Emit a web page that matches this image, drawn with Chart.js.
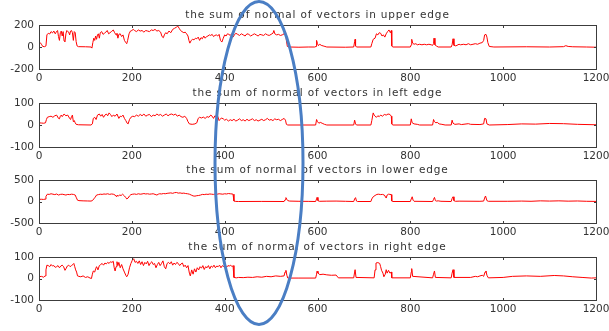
<!DOCTYPE html>
<html>
<head>
<meta charset="utf-8">
<script src="https://cdn.jsdelivr.net/npm/chart.js@4/dist/chart.umd.min.js"></script>
<style>
  html, body { margin: 0; padding: 0; background: #fff; }
  #wrap { position: relative; width: 609px; height: 331px; overflow: hidden; background: #fff; }
  canvas { position: absolute; left: 0; }
  #mark { top: 0; pointer-events: none; }
</style>
</head>
<body>
<div id="wrap">
  <canvas id="c1" width="609" height="80" style="top:5px"></canvas>
  <canvas id="c2" width="609" height="80" style="top:83px"></canvas>
  <canvas id="c3" width="609" height="79" style="top:160px"></canvas>
  <canvas id="c4" width="609" height="79" style="top:237px"></canvas>
  <canvas id="mark" width="609" height="331"></canvas>
</div>
<script>
// ---- data (x, value) ----
const titles = [
  'the sum of normal of vectors in upper edge',
  'the sum of normal of vectors in left edge',
  'the sum of normal of vectors in lower edge',
  'the sum of normal of vectors in right edge'
];
const xTicks = [0, 200, 400, 600, 800, 1000, 1200];
const yTicksUpper = [-200, 0, 200];
const yTicksLeft = [-100, 0, 100];
const yTicksLower = [-500, 0, 500];
const yTicksRight = [-100, 0, 100];

const upperEdge = [[0,35],[3,38],[6,20],[8,5],[12,3],[15,10],[17,110],[20,125],[23,118],[26,140],[29,128],[32,145],[35,120],[37,135],[40,150],[42,95],[44,60],[46,130],[48,145],[50,100],[52,140],[54,55],[56,50],[58,120],[60,150],[62,140],[64,135],[66,110],[68,145],[70,150],[72,130],[74,60],[76,140],[78,130],[80,50],[82,10],[85,3],[100,2],[112,0],[114,-10],[116,40],[118,80],[120,60],[122,100],[124,70],[126,110],[128,120],[130,80],[132,130],[135,140],[138,115],[141,125],[144,135],[147,150],[150,120],[153,130],[156,140],[160,155],[163,130],[166,110],[168,125],[170,80],[172,115],[175,120],[178,95],[181,110],[184,60],[187,40],[189,30],[191,60],[194,120],[197,145],[200,150],[203,160],[206,150],[210,140],[214,155],[218,145],[222,150],[226,135],[230,150],[234,145],[238,140],[242,155],[246,150],[250,160],[254,145],[258,150],[262,135],[265,95],[268,85],[270,110],[273,130],[276,120],[280,145],[284,130],[288,160],[292,170],[296,180],[299,190],[302,170],[305,150],[308,140],[312,130],[315,135],[318,120],[321,100],[323,60],[325,35],[328,60],[331,70],[334,65],[337,80],[340,75],[343,90],[346,60],[349,85],[352,75],[355,100],[358,80],[361,95],[364,100],[367,110],[370,105],[373,115],[376,95],[379,105],[382,110],[385,100],[388,115],[391,60],[394,45],[397,80],[400,110],[403,100],[406,120],[409,115],[412,105],[415,120],[418,90],[421,110],[424,125],[428,115],[432,105],[436,120],[440,110],[444,100],[448,120],[452,115],[456,100],[460,110],[464,120],[468,110],[472,100],[476,115],[480,110],[484,105],[488,120],[492,110],[496,105],[500,115],[504,125],[506,150],[508,120],[512,110],[516,115],[520,105],[524,110],[528,120],[531,140],[533,60],[535,5],[540,0],[560,-2],[580,0],[594,0],[597,5],[598,60],[600,30],[602,12],[605,25],[608,15],[612,10],[616,5],[620,0],[660,-2],[678,0],[680,50],[681,70],[682,10],[684,0],[715,0],[717,30],[720,70],[724,80],[727,120],[730,110],[733,130],[736,125],[739,100],[742,110],[745,90],[748,120],[751,140],[754,155],[757,130],[759,150],[760,10],[762,0],[800,0],[802,20],[803,70],[805,35],[808,25],[812,30],[815,20],[820,25],[825,20],[830,25],[835,20],[840,25],[845,20],[848,15],[850,30],[851,80],[853,20],[856,10],[860,0],[888,0],[890,20],[892,75],[894,15],[898,10],[905,25],[908,20],[915,25],[920,20],[925,30],[930,20],[935,25],[940,30],[945,25],[950,35],[955,40],[958,60],[960,110],[963,115],[965,90],[967,40],[970,5],[980,0],[1050,2],[1100,0],[1130,3],[1135,12],[1140,5],[1150,2],[1180,0],[1200,-2]];

const leftEdge = [[0,10],[5,9],[10,8],[14,10],[16,25],[18,35],[22,38],[26,40],[30,35],[34,42],[38,45],[42,30],[44,28],[46,40],[48,45],[50,38],[54,50],[58,42],[62,45],[66,30],[68,25],[70,38],[72,45],[74,15],[76,20],[78,10],[80,3],[85,1],[112,0],[115,5],[117,30],[120,35],[123,25],[126,45],[130,50],[133,40],[136,48],[139,35],[142,45],[145,50],[148,42],[151,55],[154,48],[157,38],[160,45],[164,40],[168,50],[172,30],[175,40],[178,38],[181,45],[184,30],[187,20],[190,8],[192,5],[195,25],[198,35],[202,40],[206,38],[210,45],[214,40],[218,48],[222,42],[226,50],[230,40],[234,45],[238,48],[242,38],[246,45],[250,42],[254,50],[258,44],[262,48],[266,40],[270,45],[274,50],[278,42],[282,48],[286,50],[290,45],[294,50],[298,40],[302,45],[306,38],[310,35],[314,40],[318,30],[321,15],[324,5],[330,3],[336,5],[340,10],[343,30],[346,35],[350,32],[354,36],[358,30],[362,38],[366,35],[370,45],[373,40],[376,30],[379,42],[382,38],[385,40],[388,20],[390,25],[393,32],[397,28],[400,22],[404,26],[408,18],[412,24],[416,20],[420,26],[424,18],[428,22],[432,28],[436,20],[440,24],[444,18],[448,26],[452,20],[456,24],[460,28],[464,20],[468,24],[472,18],[476,22],[480,26],[484,20],[488,24],[492,30],[496,22],[500,25],[504,20],[508,28],[512,24],[516,26],[520,20],[524,25],[528,30],[531,22],[533,3],[536,0],[596,0],[598,25],[600,15],[603,8],[606,12],[610,8],[615,3],[620,0],[678,0],[680,22],[682,5],[684,0],[715,0],[717,20],[720,55],[722,45],[724,40],[727,35],[730,42],[733,38],[736,45],[740,40],[744,48],[748,45],[752,50],[756,48],[759,40],[760,5],[762,0],[800,0],[802,28],[804,10],[808,5],[815,3],[820,0],[848,0],[850,25],[852,15],[855,10],[858,12],[862,5],[868,3],[875,0],[888,0],[890,22],[892,8],[896,3],[905,5],[910,2],[925,6],[930,3],[950,2],[958,5],[960,30],[963,28],[965,5],[970,0],[1010,2],[1040,5],[1070,4],[1100,7],[1130,6],[1160,3],[1200,1]];

const lowerEdge = [[0,50],[5,52],[10,48],[13,55],[15,120],[18,170],[22,165],[26,180],[30,170],[34,160],[38,175],[42,150],[46,165],[50,170],[54,160],[58,150],[62,165],[66,160],[70,170],[74,165],[78,150],[80,100],[83,30],[86,20],[95,15],[105,12],[112,10],[115,20],[118,60],[121,100],[124,150],[128,160],[132,170],[136,165],[140,175],[144,170],[148,180],[152,165],[156,175],[160,170],[164,150],[166,120],[168,140],[171,130],[174,150],[177,140],[180,170],[184,130],[187,90],[189,60],[192,80],[195,130],[198,160],[202,170],[206,175],[210,165],[214,180],[218,170],[222,175],[226,185],[230,175],[234,180],[238,170],[242,175],[246,180],[250,165],[254,150],[257,170],[260,180],[264,175],[268,185],[272,180],[276,190],[280,195],[284,200],[288,190],[292,205],[296,210],[300,195],[304,200],[308,190],[312,195],[316,185],[320,180],[324,170],[328,150],[332,130],[336,125],[340,135],[344,140],[348,150],[352,165],[356,160],[360,170],[364,165],[368,175],[372,170],[376,165],[380,175],[384,170],[388,180],[392,175],[396,170],[400,180],[404,175],[408,185],[412,180],[416,175],[418,170],[420,10],[424,2],[430,0],[480,2],[528,0],[530,40],[532,90],[534,50],[536,20],[540,10],[560,5],[580,3],[596,0],[598,60],[599,95],[601,20],[604,5],[620,8],[640,10],[660,5],[678,0],[680,60],[682,90],[684,10],[686,0],[715,0],[717,60],[720,110],[724,140],[728,165],[732,170],[736,160],[740,165],[744,150],[748,80],[750,150],[753,170],[756,165],[759,160],[760,10],[762,0],[800,0],[802,60],[804,110],[806,30],[808,5],[848,0],[850,50],[852,95],[854,20],[856,10],[860,15],[866,5],[888,0],[890,70],[892,110],[894,20],[897,5],[905,8],[950,5],[958,10],[960,80],[962,128],[965,20],[968,5],[1010,5],[1040,10],[1060,5],[1080,15],[1100,10],[1120,15],[1140,8],[1160,12],[1180,5],[1200,2]];

const rightEdge = [[0,8],[5,10],[10,6],[13,12],[15,40],[17,62],[20,60],[23,55],[26,65],[29,58],[32,60],[35,52],[38,55],[41,60],[44,50],[47,58],[50,62],[53,55],[56,38],[58,45],[61,58],[64,62],[67,55],[70,60],[73,65],[75,70],[77,55],[79,40],[81,30],[83,12],[86,10],[90,8],[95,12],[100,5],[105,8],[110,2],[113,0],[115,20],[117,35],[120,30],[122,45],[124,55],[127,40],[130,60],[133,65],[136,70],[139,62],[142,72],[145,68],[148,75],[151,70],[154,78],[157,75],[160,80],[162,50],[164,35],[166,55],[168,78],[170,60],[172,75],[175,50],[178,65],[181,45],[184,30],[187,15],[189,8],[192,20],[195,50],[198,70],[201,85],[204,92],[207,75],[210,80],[213,70],[216,82],[219,65],[222,78],[225,60],[228,75],[231,68],[234,80],[237,60],[240,72],[243,78],[246,65],[249,70],[252,50],[255,65],[258,75],[261,60],[264,70],[267,82],[270,55],[273,45],[276,70],[279,75],[282,68],[285,78],[288,62],[291,72],[294,65],[297,75],[300,70],[303,60],[306,68],[309,72],[312,55],[315,62],[318,50],[321,60],[324,25],[326,12],[329,40],[332,20],[335,45],[338,30],[341,50],[344,40],[347,55],[350,48],[353,60],[356,42],[359,55],[362,50],[365,60],[368,45],[371,58],[374,52],[377,62],[380,50],[383,58],[386,55],[389,62],[392,50],[395,60],[398,55],[401,65],[404,52],[407,60],[410,58],[413,62],[416,55],[418,60],[420,5],[425,3],[430,5],[440,4],[450,6],[460,5],[470,8],[480,6],[490,10],[500,8],[510,12],[520,10],[528,12],[530,30],[532,38],[534,15],[536,2],[560,2],[596,2],[598,20],[599,34],[601,25],[605,18],[612,20],[620,17],[630,15],[640,16],[645,3],[678,3],[680,30],[681,41],[683,5],[722,3],[724,40],[726,72],[730,74],[734,70],[736,55],[738,38],[741,25],[743,8],[746,20],[748,41],[750,25],[753,38],[756,25],[759,30],[760,3],[800,3],[802,30],[803,46],[805,10],[848,3],[850,20],[852,35],[854,5],[888,3],[890,25],[892,41],[894,5],[930,5],[940,10],[945,8],[950,12],[955,15],[958,10],[961,30],[963,35],[965,15],[968,3],[1000,5],[1020,10],[1050,12],[1080,10],[1110,14],[1130,12],[1150,8],[1170,5],[1190,2],[1200,3]];

// ---- drawing ----
const AXIS_COLOR = '#3c3c3c';
const TEXT_COLOR = '#333333';
const TICK_FONT = { family: '"DejaVu Sans", sans-serif', size: 10.5 };

const titlePlugin = {
  id: 'panelTitle',
  afterDraw(chart, args, opts) {
    const ctx = chart.ctx;
    const a = chart.chartArea;
    ctx.save();
    ctx.fillStyle = TEXT_COLOR;
    ctx.font = '10.5px "DejaVu Sans", sans-serif';
    ctx.letterSpacing = '0.85px';
    ctx.textAlign = 'center';
    ctx.textBaseline = 'alphabetic';
    ctx.fillText(opts.text, (a.left + a.right) / 2, a.top - 7);
    ctx.restore();
  }
};

function makeChart(id, title, series, yTicks) {
  const ymin = yTicks[0], ymax = yTicks[yTicks.length - 1];
  return new Chart(document.getElementById(id), {
    type: 'line',
    data: {
      datasets: [{
        data: series.map(p => ({ x: p[0], y: p[1] })),
        borderColor: '#ff0000',
        borderWidth: 1,
        pointRadius: 0,
        tension: 0,
        fill: false
      }]
    },
    options: {
      responsive: false,
      animation: false,
      layout: { padding: { top: 20, right: 13, left: 0, bottom: 0 } },
      plugins: {
        legend: { display: false },
        tooltip: { enabled: false },
        title: { display: false },
        panelTitle: { text: title }
      },
      scales: {
        x: {
          type: 'linear',
          min: xTicks[0], max: xTicks[xTicks.length - 1],
          afterBuildTicks: s => { s.ticks = xTicks.map(v => ({ value: v })); },
          afterFit: s => { s.height = 16; s.paddingLeft = 0; s.paddingRight = 0; },
          grid: { display: false, drawTicks: false },
          border: { display: false },
          ticks: { color: TEXT_COLOR, font: TICK_FONT, padding: 3, maxRotation: 0, autoSkip: false,
                   callback: v => String(v) }
        },
        y: {
          type: 'linear',
          min: ymin, max: ymax,
          afterBuildTicks: s => { s.ticks = yTicks.map(v => ({ value: v })); },
          afterFit: s => { s.width = 39; s.paddingTop = 0; s.paddingBottom = 0; },
          grid: { display: false, drawTicks: false },
          border: { display: false },
          ticks: { color: TEXT_COLOR, font: TICK_FONT, padding: 5, callback: v => String(v) }
        }
      }
    },
    plugins: [titlePlugin]
  });
}

const charts = [
  makeChart('c1', titles[0], upperEdge, yTicksUpper),
  makeChart('c2', titles[1], leftEdge, yTicksLeft),
  makeChart('c3', titles[2], lowerEdge, yTicksLower),
  makeChart('c4', titles[3], rightEdge, yTicksRight)
];

// overlay: axis boxes with inward ticks (positions from each chart's own scales),
// then the hand-drawn highlight ellipse from the reference
(function () {
  const m = document.getElementById('mark').getContext('2d');
  m.fillStyle = AXIS_COLOR;
  charts.forEach(ch => {
    const off = ch.canvas.offsetTop;
    const a = ch.chartArea;
    const xs = ch.scales.x, ys = ch.scales.y;
    const L = Math.round(a.left), R = Math.round(a.right);
    const T = Math.round(a.top) + off, B = Math.round(a.bottom) + off;
    m.fillRect(L, T, R - L + 1, 1);
    m.fillRect(L, B, R - L + 1, 1);
    m.fillRect(L, T, 1, B - T + 1);
    m.fillRect(R, T, 1, B - T + 1);
    xs.ticks.forEach(t => {
      const px = Math.round(xs.getPixelForValue(t.value));
      m.fillRect(px, T, 1, 3);
      m.fillRect(px, B - 2, 1, 3);
    });
    ys.ticks.forEach(t => {
      const py = Math.round(ys.getPixelForValue(t.value)) + off;
      m.fillRect(L, py, 3, 1);
      m.fillRect(R - 2, py, 3, 1);
    });
  });
  m.strokeStyle = '#4a7ec4';
  m.lineWidth = 3;
  m.beginPath();
  m.ellipse(259, 163, 44, 161.5, 0, 0, Math.PI * 2);
  m.stroke();
})();
</script>
</body>
</html>
